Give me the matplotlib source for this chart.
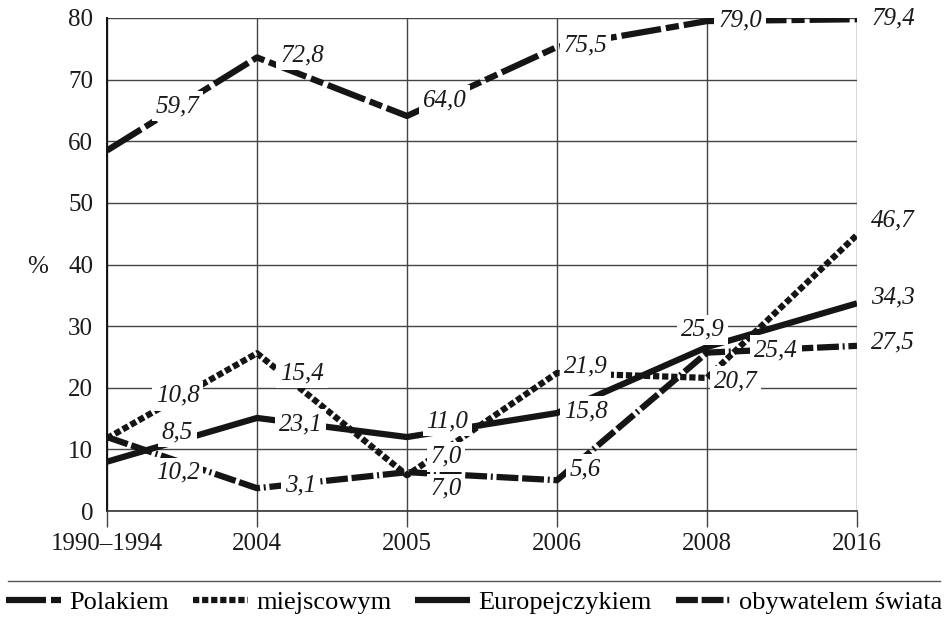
import matplotlib
matplotlib.use("Agg")
import matplotlib.pyplot as plt
from matplotlib.lines import Line2D

plt.rcParams['font.family'] = ['Liberation Serif', 'DejaVu Serif']

categories = ['1990–1994', '2004', '2005', '2006', '2008', '2016']
polakiem = [58.5, 73.6, 64.1, 75.3, 79.5, 79.8]
miejscowym = [11.8, 25.6, 5.8, 22.4, 21.6, 44.8]
europejczykiem = [8.0, 15.1, 12.0, 15.9, 26.6, 33.7]
obywatelem = [12.0, 3.7, 6.3, 5.0, 25.7, 26.8]

polakiem_lbl = ['59,7', '72,8', '64,0', '75,5', '79,0', '79,4']
miejscowym_lbl = ['10,8', '15,4', '7,0', '21,9', '20,7', '46,7']
europejczykiem_lbl = ['8,5', '23,1', '11,0', '15,8', '25,9', '34,3']
obywatelem_lbl = ['10,2', '3,1', '7,0', '5,6', '25,4', '27,5']

series_names = ['Polakiem', 'miejscowym', 'Europejczykiem', 'obywatelem świata']
yticks = [0, 10, 20, 30, 40, 50, 60, 70, 80]

# label placement (x in category units, y in %)
pol_pos = [(0.47, 65.7), (1.30, 74.0), (2.25, 66.7), (3.19, 75.5), (4.22, 79.6), (5.24, 80.0)]
mie_pos = [(0.47, 18.7), (1.30, 22.4), (2.26, 3.6), (3.19, 23.4), (4.19, 21.1), (5.24, 47.2)]
eur_pos = [(0.47, 12.7), (1.29, 14.1), (2.27, 14.6), (3.19, 16.2), (3.97, 29.4), (5.24, 34.6)]
oby_pos = [(0.47, 6.2), (1.29, 4.1), (2.26, 8.8), (3.19, 6.8), (4.46, 26.1), (5.24, 27.4)]

fig = plt.figure(figsize=(9.47, 6.21), dpi=100)
ax = fig.add_axes([107/947, 1-511/621, 750/947, 493/621])

x = list(range(len(categories)))
LW = 4.5
styles = [
    dict(dashes=[6.4, 0.8, 2.1, 0.8]),
    dict(dashes=[1, 0.45]),
    dict(linestyle='-'),
    dict(dashes=[3.5, 0.6, 3.5, 0.6, 0.32, 0.6]),
]
data = [polakiem, miejscowym, europejczykiem, obywatelem]
handles = []
for vals, st, name in zip(data, styles, series_names):
    ln, = ax.plot(x, vals, color='#151515', lw=LW, dash_capstyle='butt',
                  solid_capstyle='butt', solid_joinstyle='miter', zorder=3,
                  label=name, **st)
    handles.append(ln)

for lbls, poss in [(polakiem_lbl, pol_pos), (miejscowym_lbl, mie_pos),
                   (europejczykiem_lbl, eur_pos), (obywatelem_lbl, oby_pos)]:
    for t, (px, py) in zip(lbls, poss):
        ax.text(px, py, t, ha='center', va='center', fontsize=18, style='italic',
                color='#1a1a1a', zorder=6, clip_on=False,
                bbox=dict(boxstyle='square,pad=0.15', fc='white', ec='none'))

ax.set_xlim(0, len(categories) - 1)
ax.set_ylim(0, 80)
ax.set_xticks(x)
ax.set_xticklabels(categories)
ax.set_yticks(yticks)
ax.grid(True, color='#444444', lw=1.0, zorder=0)
ax.set_axisbelow(True)
for s in ['top', 'right']:
    ax.spines[s].set_visible(False)
ax.spines['left'].set_color('#111111')
ax.spines['left'].set_linewidth(1.4)
ax.spines['bottom'].set_color('#333333')
ax.spines['bottom'].set_linewidth(1.2)
ax.tick_params(axis='y', length=0, pad=10, labelsize=18, colors='#1a1a1a')
ax.tick_params(axis='x', length=11.5, width=1.0, color='#444444', pad=4,
               labelsize=18, labelcolor='#1a1a1a')
ax.set_ylabel('%', rotation=0, fontsize=18, color='#1a1a1a', va='center', ha='center')
ax.yaxis.set_label_coords(-0.092, 0.495)

fig.add_artist(Line2D([8/947, 940/947], [1-581/621, 1-581/621],
                      color='#555555', lw=1.0, transform=fig.transFigure))

fig.legend(handles=handles, labels=series_names, loc='center',
           bbox_to_anchor=(474/947, 1-602/621), ncol=4, frameon=False,
           handlelength=2.1, handletextpad=0.3, columnspacing=0.9,
           fontsize=19, borderaxespad=0, borderpad=0)

fig.savefig('out.png', dpi=100, facecolor='white')
